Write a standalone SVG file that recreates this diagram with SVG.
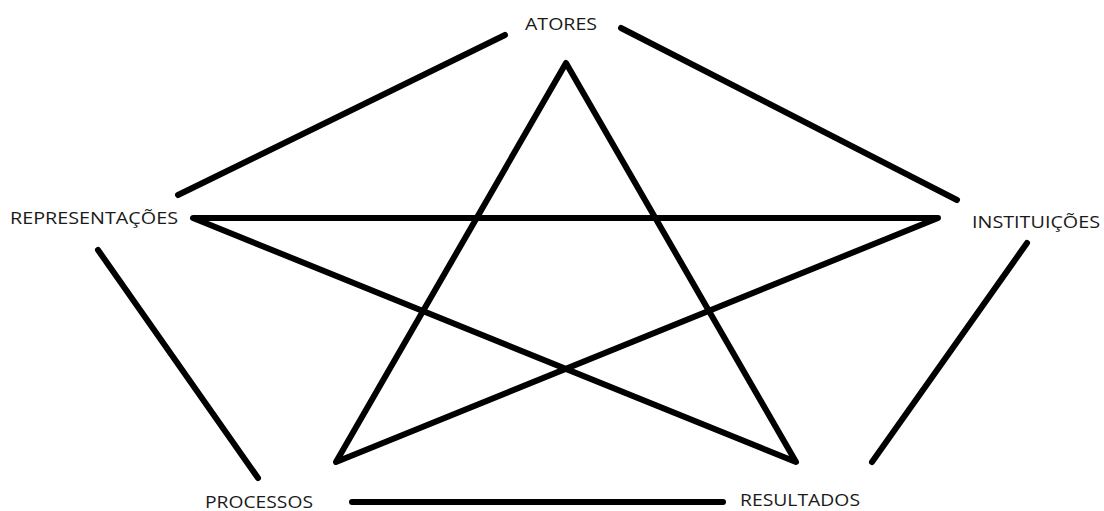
<svg xmlns="http://www.w3.org/2000/svg" width="1104" height="511" viewBox="0 0 1104 511">
<style>
.e{stroke:#000;stroke-width:6;stroke-linecap:round;stroke-linejoin:round;fill:none}
.t{font-family:"Open Sans","Liberation Sans",sans-serif;font-size:17px;fill:#1a1a1a}
</style>
<rect width="1104" height="511" fill="#fff"/>
<g id="connectors">
<line class="e" x1="505" y1="35" x2="178" y2="195"/>
<line class="e" x1="621" y1="28" x2="957" y2="200"/>
<line class="e" x1="1027" y1="243" x2="872" y2="462"/>
<line class="e" x1="98" y1="250" x2="258" y2="478"/>
<line class="e" x1="352" y1="502" x2="723" y2="502"/>
<polygon class="e" points="566,63 796,462 193,218 938,218 336,462"/>
</g>
<g id="atores"><text class="t" x="525" y="30" textLength="72" lengthAdjust="spacingAndGlyphs">ATORES</text></g>
<g id="representacoes"><text class="t" x="10" y="224" textLength="168" lengthAdjust="spacingAndGlyphs">REPRESENTAÇÕES</text></g>
<g id="instituicoes"><text class="t" x="972" y="228" textLength="128" lengthAdjust="spacingAndGlyphs">INSTITUIÇÕES</text></g>
<g id="processos"><text class="t" x="205" y="508" textLength="108" lengthAdjust="spacingAndGlyphs">PROCESSOS</text></g>
<g id="resultados"><text class="t" x="740" y="506" textLength="120" lengthAdjust="spacingAndGlyphs">RESULTADOS</text></g>
</svg>
